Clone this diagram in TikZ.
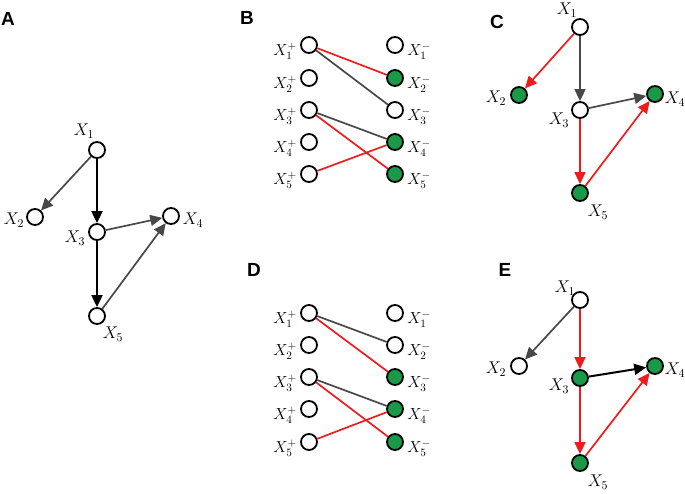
\RequirePackage{fix-cm}
\documentclass[tikz,border=0pt]{standalone}
\usepackage{fontspec}
\setsansfont{Liberation Sans}
\usetikzlibrary{arrows.meta}
\definecolor{edgegray}{HTML}{484848}
\definecolor{edgered}{HTML}{EE1C1C}
\definecolor{nodegreen}{HTML}{1A9A48}
\tikzset{
  vn/.style={circle,draw=black,line width=1.8pt,minimum size=16pt,inner sep=0pt,fill=white},
  gn/.style={vn,fill=nodegreen},
  lab/.style={font=\fontsize{17}{19}\selectfont,inner sep=0pt},
  blab/.style={font=\fontsize{16}{18}\selectfont,inner sep=0pt},
  plab/.style={font=\sffamily\bfseries\fontsize{19}{22}\selectfont,inner sep=0pt},
  ar/.style={-{Triangle[length=12pt,width=11pt]},line width=1.7pt},
  ag/.style={ar,draw=edgegray},
  ab/.style={ar,draw=black,line width=2pt},
  arr/.style={ar,draw=edgered},
  lg/.style={line width=1.7pt,draw=edgegray},
  lr/.style={line width=1.7pt,draw=edgered},
}
\begin{document}
\begin{tikzpicture}[x=1pt,y=-1pt]
\useasboundingbox (0,0) rectangle (685,494);
% panel labels
\node[plab] (pA) at (8,19) {A};
\node[plab] (pB) at (247,18) {B};
\node[plab] (pC) at (497,22) {C};
\node[plab] (pD) at (254,270) {D};
\node[plab] (pE) at (505,270) {E};

% ---------- Panel A ----------
\node[vn] (a1) at (97,150) {};
\node[vn] (a2) at (35,217) {};
\node[vn] (a3) at (97,232) {};
\node[vn] (a4) at (171,216) {};
\node[vn] (a5) at (97,316) {};
\node[lab] (la1) at (84,131) {$X_1$};
\node[lab] (la2) at (14,220) {$X_2$};
\node[lab] (la3) at (75,238) {$X_3$};
\node[lab] (la4) at (193,220) {$X_4$};
\node[lab] (la5) at (113,334) {$X_5$};
\draw[ag] (a1) -- (a2);
\draw[ab] (a1) -- (a3);
\draw[ag] (a3) -- (a4);
\draw[ab] (a3) -- (a5);
\draw[ag] (a5) -- (a4);

% ---------- Panel B ----------
\foreach \i/\y in {1/45,2/78,3/110,4/142,5/174}{
  \node[blab] (lbl\i) at (285,\y+6) {$X_\i^+$};
}
\node[vn] (bl1) at (309,45) {};
\node[vn] (bl2) at (309,78) {};
\node[vn] (bl3) at (309,110) {};
\node[vn] (bl4) at (309,142) {};
\node[vn] (bl5) at (309,174) {};
\node[vn] (br1) at (395,45) {};
\node[gn] (br2) at (395,78) {};
\node[vn] (br3) at (395,110) {};
\node[gn] (br4) at (395,142) {};
\node[gn] (br5) at (395,174) {};
\foreach \i/\y in {1/45,2/78,3/110,4/142,5/174}{
  \node[blab] (lbr\i) at (419,\y+6) {$X_\i^-$};
}
\draw[lr] (bl1) -- (br2);
\draw[lg] (bl1) -- (br3);
\draw[lg] (bl3) -- (br4);
\draw[lr] (bl3) -- (br5);
\draw[lr] (bl5) -- (br4);

% ---------- Panel C ----------
\node[vn] (c1) at (580,27) {};
\node[gn] (c2) at (519,95) {};
\node[vn] (c3) at (580,110) {};
\node[gn] (c4) at (655,94) {};
\node[gn] (c5) at (580,193) {};
\node[lab] (lc1) at (567,10) {$X_1$};
\node[lab] (lc2) at (496,98) {$X_2$};
\node[lab] (lc3) at (559,120) {$X_3$};
\node[lab] (lc4) at (675,99) {$X_4$};
\node[lab] (lc5) at (598,212) {$X_5$};
\draw[arr] (c1) -- (c2);
\draw[ag] (c1) -- (c3);
\draw[ag] (c3) -- (c4);
\draw[arr] (c3) -- (c5);
\draw[arr] (c5) -- (c4);

% ---------- Panel D ----------
\foreach \i/\y in {1/313,2/345,3/377,4/409,5/442}{
  \node[blab] (ldl\i) at (285,\y+6) {$X_\i^+$};
}
\node[vn] (dl1) at (309,313) {};
\node[vn] (dl2) at (309,345) {};
\node[vn] (dl3) at (309,377) {};
\node[vn] (dl4) at (309,409) {};
\node[vn] (dl5) at (309,442) {};
\node[vn] (dr1) at (395,313) {};
\node[vn] (dr2) at (395,345) {};
\node[gn] (dr3) at (395,377) {};
\node[gn] (dr4) at (395,409) {};
\node[gn] (dr5) at (395,442) {};
\foreach \i/\y in {1/313,2/345,3/377,4/409,5/442}{
  \node[blab] (ldr\i) at (419,\y+6) {$X_\i^-$};
}
\draw[lg] (dl1) -- (dr2);
\draw[lr] (dl1) -- (dr3);
\draw[lg] (dl3) -- (dr4);
\draw[lr] (dl3) -- (dr5);
\draw[lr] (dl5) -- (dr4);

% ---------- Panel E ----------
\node[vn] (e1) at (580,300) {};
\node[vn] (e2) at (519,366) {};
\node[gn] (e3) at (580,378) {};
\node[gn] (e4) at (655,366) {};
\node[gn] (e5) at (580,463) {};
\node[lab] (le1) at (565,288) {$X_1$};
\node[lab] (le2) at (496,369) {$X_2$};
\node[lab] (le3) at (559,386) {$X_3$};
\node[lab] (le4) at (675,370) {$X_4$};
\node[lab] (le5) at (598,482) {$X_5$};
\draw[ag] (e1) -- (e2);
\draw[arr] (e1) -- (e3);
\draw[ab] (e3) -- (e4);
\draw[arr] (e3) -- (e5);
\draw[arr] (e5) -- (e4);
\end{tikzpicture}
\end{document}
